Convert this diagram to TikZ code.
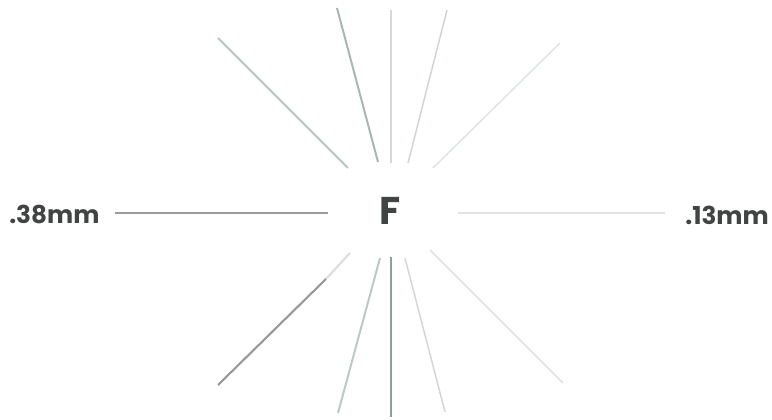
\documentclass[tikz,border=0pt]{standalone}
\usepackage{fontspec}
\setmainfont{Poppins}[UprightFont=* Bold]
\begin{document}
\begin{tikzpicture}[x=0.75pt,y=0.75pt,yscale=-1,xscale=1]
\useasboundingbox (0,0) rectangle (772,420);
%Upper rays
\draw [color={rgb, 255:red, 184; green, 196; blue, 192}, line width=1.5pt] (218,38) -- (348,168) ;
\draw [color={rgb, 255:red, 170; green, 182; blue, 178}, line width=1.5pt] (337,8) -- (378,162) ;
\draw [color={rgb, 255:red, 210; green, 217; blue, 214}, line width=1.1pt] (391,10) -- (391,163) ;
\draw [color={rgb, 255:red, 205; green, 214; blue, 210}, line width=1.1pt] (447,10) -- (408,163) ;
\draw [color={rgb, 255:red, 222; green, 228; blue, 225}, line width=1.1pt] (560,43) -- (433,168) ;
%Horizontal rays
\draw [color={rgb, 255:red, 154; green, 156; blue, 155}, line width=2.2pt] (115,213) -- (328,213) ;
\draw [color={rgb, 255:red, 226; green, 228; blue, 227}, line width=1.1pt] (458,213) -- (665,213) ;
%Lower rays
\draw [color={rgb, 255:red, 218; green, 222; blue, 220}, line width=1.6pt] (350,253) -- (326,279) ;
\draw [color={rgb, 255:red, 150; green, 154; blue, 152}, line width=1.6pt] (326,279) -- (218,385) ;
\draw [color={rgb, 255:red, 190; green, 200; blue, 196}, line width=1.5pt] (380,258) -- (338,413) ;
\draw [color={rgb, 255:red, 142; green, 159; blue, 155}, line width=2.2pt] (391,257) -- (391,417) ;
\draw [color={rgb, 255:red, 208; green, 216; blue, 212}, line width=1.1pt] (405,258) -- (445,412) ;
\draw [color={rgb, 255:red, 222; green, 227; blue, 224}, line width=1.1pt] (430,250) -- (563,383) ;
%Labels
\draw (390,211) node [inner sep=0.75pt, color={rgb, 255:red, 64; green, 68; blue, 66}] (centre) {\fontsize{29}{29}\selectfont F};
\draw (8,214) node [anchor=west, inner sep=0.75pt, color={rgb, 255:red, 64; green, 68; blue, 66}] (thick) {\fontsize{18.5}{18.5}\selectfont .38mm};
\draw (770,215) node [anchor=east, inner sep=0.75pt, color={rgb, 255:red, 64; green, 68; blue, 66}] (thin) {\fontsize{18.5}{18.5}\selectfont .13mm};
\end{tikzpicture}
\end{document}
